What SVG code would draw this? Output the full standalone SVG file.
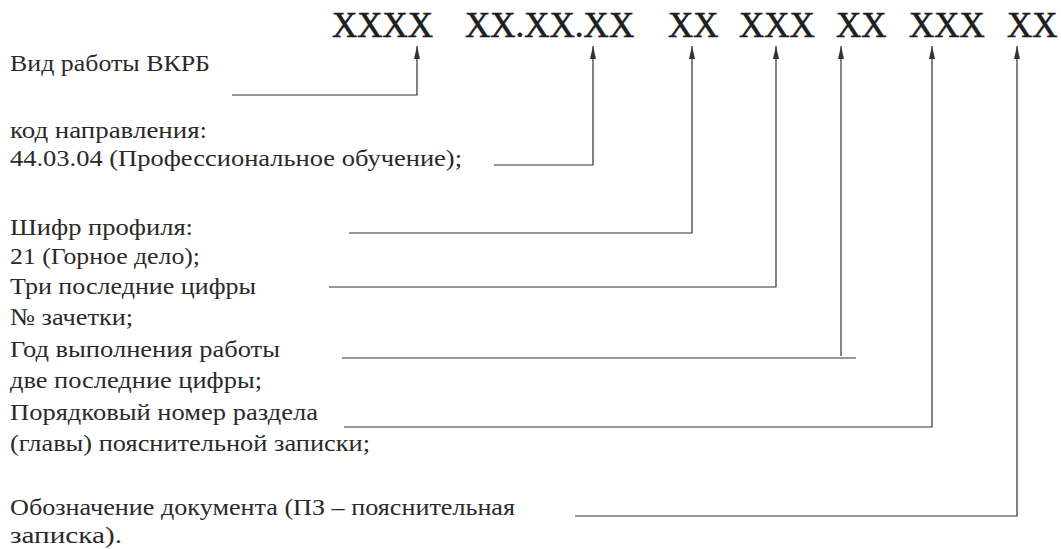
<svg xmlns="http://www.w3.org/2000/svg" width="1061" height="549" viewBox="0 0 1061 549">
<defs>
<style>
.code{font-family:"Liberation Serif","Times New Roman",serif;font-size:35px;fill:#1e1e1e;stroke:#1e1e1e;stroke-width:0.6}
.lbl{font-family:"Liberation Serif","Times New Roman",serif;font-size:24px;fill:#2a2a2a}
.ln{fill:none;stroke:#333;stroke-width:1.2}
</style>
<marker id="ah" markerWidth="14" markerHeight="8" refX="13" refY="4" orient="auto" markerUnits="userSpaceOnUse" viewBox="0 0 14 8">
<path d="M0,1 L13,4 L0,7 Z" fill="#333"/>
</marker>
</defs>
<rect width="1061" height="549" fill="#fff"/>
<g id="code">
<text class="code" x="332" y="37">XXXX</text>
<text class="code" x="465" y="37">XX.XX.XX</text>
<text class="code" x="668" y="37">XX</text>
<text class="code" x="739" y="37">XXX</text>
<text class="code" x="836" y="37">XX</text>
<text class="code" x="909" y="37">XXX</text>
<text class="code" x="1007" y="37">XX</text>
</g>
<g id="n1"><text class="lbl" x="10" y="71" textLength="200" lengthAdjust="spacingAndGlyphs">Вид работы ВКРБ</text></g>
<g id="n2"><text class="lbl" x="10" y="138" textLength="197" lengthAdjust="spacingAndGlyphs">код направления:</text><text class="lbl" x="10" y="166" textLength="452" lengthAdjust="spacingAndGlyphs">44.03.04 (Профессиональное обучение);</text></g>
<g id="n3"><text class="lbl" x="10" y="235" textLength="183" lengthAdjust="spacingAndGlyphs">Шифр профиля:</text><text class="lbl" x="10" y="264" textLength="190" lengthAdjust="spacingAndGlyphs">21 (Горное дело);</text></g>
<g id="n4"><text class="lbl" x="10" y="294" textLength="246" lengthAdjust="spacingAndGlyphs">Три последние цифры</text><text class="lbl" x="10" y="325" textLength="123" lengthAdjust="spacingAndGlyphs">№ зачетки;</text></g>
<g id="n5"><text class="lbl" x="10" y="357" textLength="270" lengthAdjust="spacingAndGlyphs">Год выполнения работы</text><text class="lbl" x="10" y="388" textLength="252" lengthAdjust="spacingAndGlyphs">две последние цифры;</text></g>
<g id="n6"><text class="lbl" x="10" y="420" textLength="308" lengthAdjust="spacingAndGlyphs">Порядковый номер раздела</text><text class="lbl" x="10" y="451" textLength="360" lengthAdjust="spacingAndGlyphs">(главы) пояснительной записки;</text></g>
<g id="n7"><text class="lbl" x="10" y="515" textLength="505" lengthAdjust="spacingAndGlyphs">Обозначение документа (ПЗ – пояснительная</text><text class="lbl" x="10" y="543" textLength="112" lengthAdjust="spacingAndGlyphs">записка).</text></g>
<g id="connectors">
<path class="ln" d="M232,95 H417 V46" marker-end="url(#ah)"/>
<path class="ln" d="M494,165 H593 V46" marker-end="url(#ah)"/>
<path class="ln" d="M349,233 H692 V46" marker-end="url(#ah)"/>
<path class="ln" d="M329,287 H776 V46" marker-end="url(#ah)"/>
<path class="ln" d="M342,358 H856"/>
<path class="ln" d="M841,356 V46" marker-end="url(#ah)"/>
<path class="ln" d="M344,427 H932 V46" marker-end="url(#ah)"/>
<path class="ln" d="M575,516 H1017 V46" marker-end="url(#ah)"/>
</g>
</svg>
